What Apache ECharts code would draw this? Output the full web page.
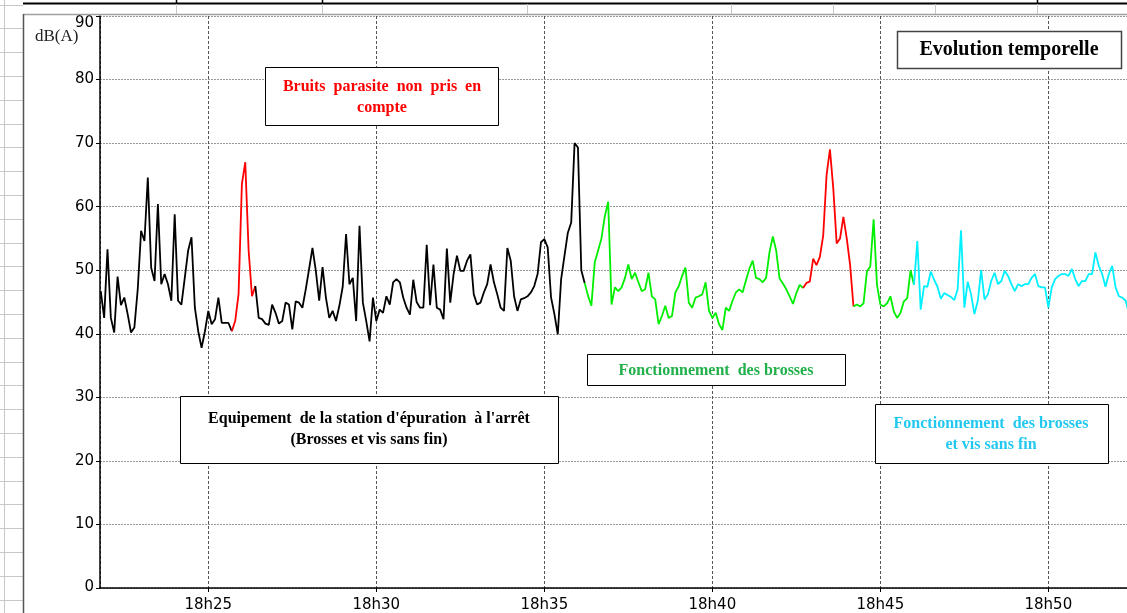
<!DOCTYPE html>
<html>
<head>
<meta charset="utf-8">
<script src="https://cdn.jsdelivr.net/npm/echarts@6/dist/echarts.min.js"></script>
<style>html,body{margin:0;padding:0;background:#fff}#c{width:1127px;height:613px}</style>
</head>
<body>
<div id="c"></div>
<script>
// time in minutes after 18h00, sampled every 0.1 min (6 s) starting at 18h21.8
const T0 = 21.8;
const STEP = 0.1;
const xTickLabels = ['18h25', '18h30', '18h35', '18h40', '18h45', '18h50'];
const yTicks = [0, 10, 20, 30, 40, 50, 60, 70, 80, 90];

// segment start indices
const startBlackA = 0, startRedA = 39, startBlackB = 46, startGreenA = 144,
      startRedB = 209, startGreenB = 224, startCyan = 242;

const blackA = [46.7,42.5,53.3,42.5,40.2,49.0,44.5,45.7,43.1,40.2,41.0,47.0,56.2,54.6,64.6,50.4,48.3,60.4,47.8,49.4,
  47.8,45.2,58.8,45.2,44.6,48.8,53.1,55.2,44.1,40.4,37.8,40.4,43.6,41.5,42.3,45.7,41.7,41.7,41.7,40.4];
const redA = [40.4,42.0,46.2,63.6,67.0,53.1,45.9,47.5];
const blackB = [47.5,42.5,42.3,41.6,41.4,44.6,43.3,41.6,42.0,44.9,44.6,40.7,45.1,44.9,44.1,47.0,50.2,53.5,49.9,45.2,
  50.5,45.7,42.5,43.6,42.0,44.4,47.4,55.7,47.8,48.8,42.0,57.0,44.9,42.0,38.8,45.7,42.0,43.8,43.3,45.9,
  44.6,48.1,48.6,48.1,45.7,44.1,43.0,48.5,45.0,44.1,44.1,54.0,44.5,50.9,44.1,43.8,42.3,53.4,44.9,49.4,
  52.3,49.9,49.9,51.5,52.5,46.2,44.6,44.9,46.5,47.8,50.9,48.1,46.2,44.1,43.6,53.5,51.5,45.9,43.6,45.4,
  45.6,45.9,46.5,47.5,49.4,54.4,54.9,53.6,45.7,43.1,39.9,48.6,52.3,55.9,57.5,70.0,69.3,50.0,48.0];
const greenA = [48.0,46.0,44.4,51.2,53.1,55.0,58.5,60.8,44.6,47.3,46.7,47.3,48.8,50.9,48.6,49.6,48.1,46.7,47.0,49.6,
  45.9,45.4,41.5,42.8,44.4,42.5,42.8,46.5,47.5,49.1,50.4,44.9,44.1,45.7,45.9,46.2,48.1,43.6,42.5,43.3,
  41.5,40.6,44.1,43.6,45.2,46.5,47.0,46.5,48.4,50.2,51.5,48.8,48.6,48.1,48.8,52.8,55.3,53.1,48.7,47.9,
  47.0,45.9,44.7,46.4,47.7,47.2];
const redB = [47.2,48.0,48.2,51.8,50.8,52.1,55.5,65.0,69.0,62.8,54.2,55.0,58.4,55.0,50.8,44.3];
const greenB = [44.3,44.6,44.3,44.8,49.8,50.6,58.0,47.7,44.6,44.3,44.8,45.9,43.5,42.5,43.3,45.1,45.6,50.0,47.7];
const cyan = [47.7,54.6,43.8,47.5,47.4,49.8,48.5,47.4,45.5,46.4,46.1,45.8,45.3,47.0,56.3,44.1,48.2,46.2,43.1,45.2,
  50.0,45.4,46.2,48.3,49.6,47.8,48.3,49.9,49.1,47.8,46.7,47.8,47.5,47.8,47.8,48.8,49.4,47.5,47.3,47.3,
  44.1,47.3,48.6,49.1,49.4,49.4,49.1,50.2,48.6,47.5,48.3,48.3,49.4,49.4,52.8,50.7,49.4,47.4,49.4,50.7,
  47.3,45.9,45.7,45.2,43.1];

function seg(start, vals) {
  return vals.map((v, k) => [T0 + STEP * (start + k), v]);
}

const chart = echarts.init(document.getElementById('c'), null, {renderer: 'canvas'});

function lineSeries(name, start, vals, color) {
  return {
    name: name, type: 'line', data: seg(start, vals), symbol: 'none', showSymbol: false,
    lineStyle: {color: color, width: 1.8}, animation: false, clip: true, z: 3
  };
}

const serif = "'Liberation Serif', 'DejaVu Serif', serif";
const sans = "'DejaVu Sans', 'Liberation Sans', sans-serif";
function box(x, y, w, h, stroke, lw) {
  return {type: 'rect', z: 100, shape: {x: x, y: y, width: w, height: h},
    style: {fill: '#fff', stroke: stroke, lineWidth: lw}};
}
function txt(x, y, text, color, size) {
  return {type: 'text', z: 101, style: {x: x, y: y, text: text, fill: color,
    font: 'bold ' + size + 'px ' + serif, textAlign: 'center', textVerticalAlign: 'middle', lineHeight: 21}};
}
function ln(x1, y1, x2, y2, color, w) {
  return {type: 'line', z: 1, shape: {x1: x1, y1: y1, x2: x2, y2: y2}, style: {stroke: color, lineWidth: w}};
}

const bg = [];
// spreadsheet cells on the left
bg.push(ln(4.5, 0, 4.5, 613, '#c8c8c8', 1));
for (let y = 4.5; y < 613; y += 23.8) bg.push(ln(0, Math.round(y) + 0.5, 23, Math.round(y) + 0.5, '#c8c8c8', 1));
// top row
bg.push(ln(23, 3.5, 1127, 3.5, '#000', 2));
[176, 322, 527, 731, 833, 935].forEach(x => bg.push(ln(x + 0.5, 4, x + 0.5, 14, '#c8c8c8', 1)));
[176, 322, 1037].forEach(x => bg.push(ln(x + 0.5, 0, x + 0.5, 4, '#000', 1.5)));
bg.push(ln(1037.5, 4, 1037.5, 14, '#c8c8c8', 1));
bg.push(ln(23, 14.5, 1127, 14.5, '#a0a0a0', 1.5));
bg.push(ln(23.5, 14, 23.5, 613, '#555', 1.5));

const option = {
  animation: false,
  backgroundColor: '#fff',
  grid: {left: 100, right: 0, top: 16, bottom: 21, containLabel: false},
  xAxis: {
    type: 'value', min: 21.777, max: 52.34,
    axisLine: {show: true, lineStyle: {color: '#000', width: 1.5}},
    axisTick: {show: true, length: 4, lineStyle: {color: '#000'}},
    axisLabel: {
      show: true, margin: 10, color: '#000', fontSize: 15, fontFamily: sans,
      showMinLabel: false, showMaxLabel: false,
      formatter: function (v) {
        const r = Math.round(v * 1000) / 1000;
        if (Math.abs(r % 5) > 1e-6) return '';
        const idx = (r - 25) / 5;
        return xTickLabels[idx] || '';
      }
    },
    splitLine: {show: true, lineStyle: {color: '#555', type: [3, 2], width: 1}}
  },
  yAxis: {
    type: 'value', min: 0, max: 90, interval: 10,
    axisLine: {show: true, lineStyle: {color: '#000', width: 1.5}},
    axisTick: {show: true, length: 4, lineStyle: {color: '#000'}},
    axisLabel: {
      show: true, margin: 6, color: '#000', fontSize: 15, fontFamily: sans,
      formatter: function (v) {
        if (v === 90) return '{top|' + v + '}';
        if (v === 0) return '{bot|' + v + '}';
        return yTicks.indexOf(v) >= 0 ? String(v) : '';
      },
      rich: {
        top: {fontSize: 15, fontFamily: sans, color: '#000', padding: [14, 0, 0, 0]},
        bot: {fontSize: 15, fontFamily: sans, color: '#000', padding: [0, 0, 2, 0]}
      }
    },
    splitLine: {show: true, lineStyle: {color: '#999', type: [2, 1], width: 1}}
  },
  graphic: bg.concat([
    {type: 'text', z: 101, style: {x: 35, y: 37, text: 'dB(A)', fill: '#222', font: '17px ' + serif, textAlign: 'left', textVerticalAlign: 'middle'}},
    box(897.5, 31.5, 224, 37, '#444', 1.5),
    txt(1009, 50, 'Evolution temporelle', '#000', 20),
    box(265.5, 67.5, 233, 58, '#000', 1),
    txt(382, 97, 'Bruits  parasite  non  pris  en\ncompte', '#ff0000', 16),
    box(587.5, 354.5, 258, 31, '#000', 1),
    txt(716, 371, 'Fonctionnement  des brosses', '#22b04a', 16),
    box(180.5, 396.5, 378, 67, '#000', 1),
    txt(369, 429, "Equipement  de la station d'épuration  à l'arrêt\n(Brosses et vis sans fin)", '#000', 16),
    box(875.5, 404.5, 233, 59, '#000', 1),
    txt(991, 434, 'Fonctionnement  des brosses\net vis sans fin', '#22c8f0', 16)
  ]),
  series: [
    lineSeries('blackA', startBlackA, blackA, '#000000'),
    lineSeries('redA', startRedA, redA, '#ff0000'),
    lineSeries('blackB', startBlackB, blackB, '#000000'),
    lineSeries('greenA', startGreenA, greenA, '#00ee00'),
    lineSeries('redB', startRedB, redB, '#ff0000'),
    lineSeries('greenB', startGreenB, greenB, '#00ee00'),
    lineSeries('cyan', startCyan, cyan, '#00f0ff')
  ]
};
chart.setOption(option);
</script>
</body>
</html>
